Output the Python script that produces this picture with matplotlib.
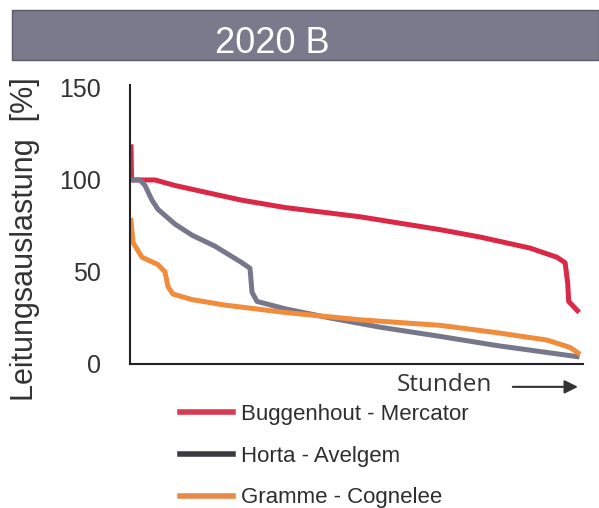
import matplotlib
matplotlib.use("Agg")
import matplotlib.pyplot as plt
from matplotlib.lines import Line2D
from matplotlib.patches import Rectangle

plt.rcParams['font.family'] = ['Liberation Sans', 'DejaVu Sans']

# Jahresdauerlinien, x in Stunden, y in %
red_h = [0, 10, 470, 860, 1510, 2170, 3020, 4480, 6050, 6830, 7810, 8340, 8500, 8550, 8570, 8740]
red_v = [118, 100, 100, 97, 93, 89, 85, 80, 73, 69, 63, 58, 55, 44, 34, 29]

grey_h = [0, 176, 274, 411, 529, 861, 1194, 1645, 2173, 2330, 2369, 2467, 3015, 3896, 4875, 6050, 7166, 8733]
grey_v = [100, 100, 97, 89, 84, 76, 70, 64, 55, 52, 39, 34, 30, 25, 20, 15, 10, 4]

orange_h = [0, 39, 215, 529, 666, 724, 822, 1194, 1840, 3015, 4484, 6050, 7166, 8145, 8596, 8752]
orange_v = [78, 66, 58, 54, 50, 42, 38, 35, 32, 28, 24, 21, 17, 13, 9, 6]

labels = ['Buggenhout - Mercator', 'Horta - Avelgem', 'Gramme - Cognelee']
yticks = [0, 50, 100, 150]

fig = plt.figure(figsize=(5.99, 5.08), dpi=100)
ax = fig.add_axes([0.2170, 0.2835, 0.7563, 0.5492])

ax.plot(red_h, red_v, color='#dc2847', lw=3.6, solid_joinstyle='round')
ax.plot(grey_h, grey_v, color='#77778c', lw=3.6, solid_joinstyle='round')
ax.plot(orange_h, orange_v, color='#f08c3c', lw=3.6, solid_joinstyle='round')

ax.set_xlim(-20, 8850)
ax.set_ylim(0, 151.6)
ax.set_xticks([])
ax.set_yticks(yticks)
ax.tick_params(axis='y', length=0, pad=21, labelsize=18, labelcolor='#333333')
for s in ['top', 'right']:
    ax.spines[s].set_visible(False)
for s in ['left', 'bottom']:
    ax.spines[s].set_linewidth(1.5)
    ax.spines[s].set_color('#222222')

fig.text(25 / 599, 1 - 239 / 508, 'Leitungsauslastung  [%]', rotation=90,
         ha='center', va='center', fontsize=22, color='#333333')

ax.text(0.695, -0.077, 'Stunden', transform=ax.transAxes, ha='center', va='center',
        fontsize=17.5, color='#333333', family=['Open Sans', 'DejaVu Sans'])
ax.annotate('', xy=(0.995, -0.082), xytext=(0.839, -0.082), xycoords='axes fraction',
            arrowprops=dict(arrowstyle='-|>', lw=1.5, color='#333333', mutation_scale=20),
            annotation_clip=False)

# Titelbalken
fig.patches.append(Rectangle((12 / 599, 1 - 60 / 508), 587 / 599, 50 / 508,
                             transform=fig.transFigure, facecolor='#7b7a8c',
                             edgecolor='#5a5a66', lw=1))
fig.text(272 / 599, 1 - 53 / 508, '2020 B', ha='center', va='baseline',
         fontsize=26, color='white')

handles = [Line2D([], [], color='#d93a52', lw=4),
           Line2D([], [], color='#3c3c40', lw=4),
           Line2D([], [], color='#e8884a', lw=4)]
fig.legend(handles, labels, loc='upper left', bbox_to_anchor=(180 / 599, 1 - 404 / 508),
           frameon=False, fontsize=16, labelcolor='#2e2e2e', handlelength=2.4,
           handletextpad=0.35, labelspacing=0.93, borderpad=0, borderaxespad=0)

fig.savefig('out.png', dpi=100)
